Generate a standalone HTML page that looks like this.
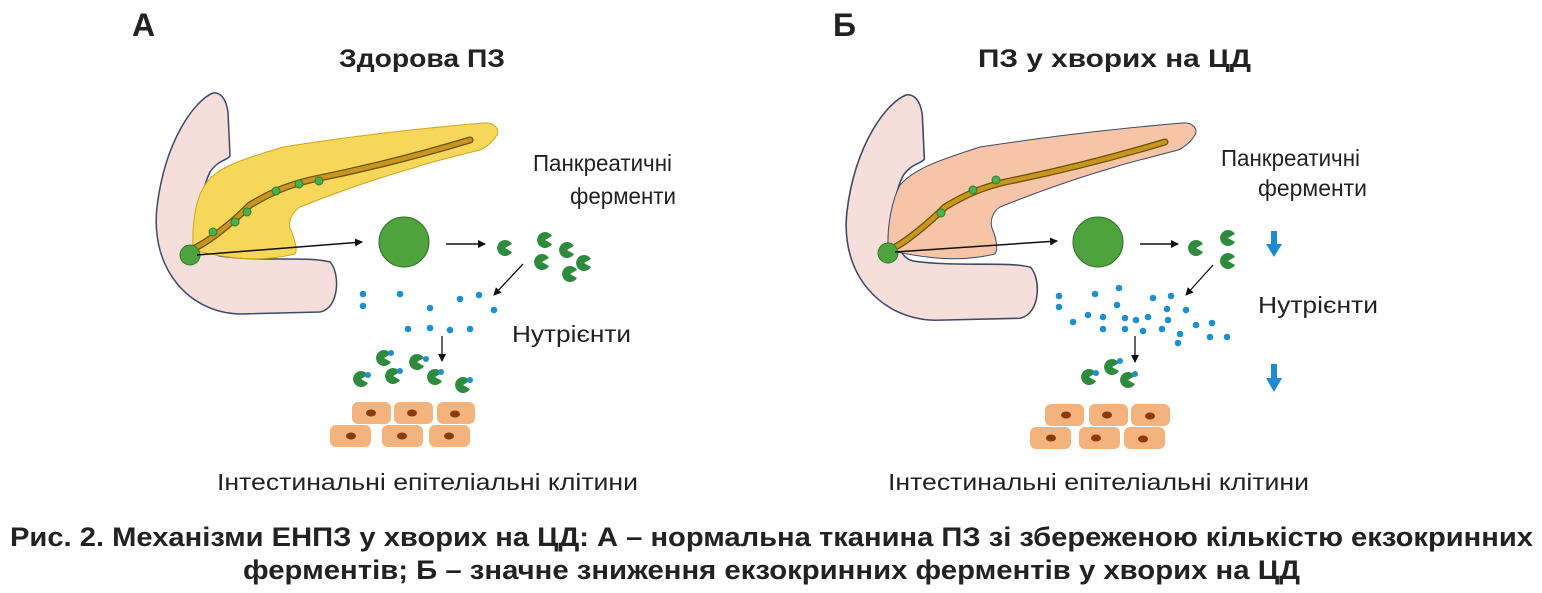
<!DOCTYPE html>
<html><head><meta charset="utf-8"><style>
html,body{margin:0;padding:0;background:#fff;}
svg{display:block}
text{font-family:"Liberation Sans",sans-serif;fill:#222}
</style></head><body>
<svg width="1542" height="593" viewBox="0 0 1542 593" xmlns="http://www.w3.org/2000/svg">
<defs>
<marker id="ah" markerWidth="8" markerHeight="8" refX="7" refY="4" orient="auto" markerUnits="userSpaceOnUse"><path d="M0,0 L8,4 L0,8 z" fill="#111"/></marker>
<g id="pac"><path d="M0,0 L7,-4 A8,8 0 1 0 7,4 z" fill="#2e8b3e"/></g>
<g id="duo">
<path d="M213,93 C195,100 165,140 157,207 C150,270 190,313 240,314 L320,312 C340,308 340,272 330,262 C310,256 260,262 220,256 C198,252 196,200 210,172 C218,160 228,160 230,156 L228,112 C226,98 220,92 213,93 Z" fill="#f6dedb" stroke="#3d4a6a" stroke-width="1.5"/>
</g>
<g id="duct">
<path d="M195,248 C215,238 240,215 250,205 C275,190 290,185 310,180 C360,170 420,155 470,140" fill="none" stroke="#6b5200" stroke-width="7" stroke-linecap="round"/>
<path d="M195,248 C215,238 240,215 250,205 C275,190 290,185 310,180 C360,170 420,155 470,140" fill="none" stroke="#c8961e" stroke-width="4.5" stroke-linecap="round"/>
</g>
</defs>

<text x="132" y="36" font-size="32" font-weight="bold">А</text>
<text x="833" y="36" font-size="32" font-weight="bold">Б</text>
<text x="339" y="67" font-size="25" font-weight="bold" textLength="166" lengthAdjust="spacingAndGlyphs">Здорова ПЗ</text>
<text x="978" y="67" font-size="25" font-weight="bold" textLength="273" lengthAdjust="spacingAndGlyphs">ПЗ у хворих на ЦД</text>

<!-- PANEL A -->
<g>
<use href="#duo"/>
<path d="M193,250 C192,225 195,200 205,185 C215,168 240,160 283,147 C340,138 400,130 483,123 C495,122 500,130 497,135 C492,143 485,148 480,150 C440,160 420,165 417,167 C370,180 330,195 300,207 C292,212 288,222 290,228 C295,240 298,250 295,254 C270,260 240,262 193,250 Z" fill="#f7d75a" stroke="#c9a820" stroke-width="1"/>
<use href="#duct"/>
<g fill="#4caf50" stroke="#2e7d32" stroke-width="1">
<circle cx="213" cy="232" r="4"/><circle cx="235" cy="222" r="4"/><circle cx="247" cy="212" r="4"/><circle cx="276" cy="191" r="4"/><circle cx="299" cy="184" r="4"/><circle cx="319" cy="181" r="4"/>
</g>
<circle cx="190" cy="255" r="10" fill="#4ea33c" stroke="#2e7d32"/>
<line x1="197" y1="255" x2="362" y2="242" stroke="#111" stroke-width="1.5" marker-end="url(#ah)"/>
<circle cx="404" cy="242" r="25" fill="#4ea33c" stroke="#2e6b2a" stroke-width="1"/>
<line x1="446" y1="244" x2="485" y2="244" stroke="#111" stroke-width="1.5" marker-end="url(#ah)"/>
<use href="#pac" x="505" y="248"/><use href="#pac" x="545" y="240"/><use href="#pac" x="567" y="250"/><use href="#pac" x="542" y="262"/><use href="#pac" x="584" y="263"/><use href="#pac" x="570" y="274"/>
<line x1="523" y1="264" x2="494" y2="295" stroke="#111" stroke-width="1.3" marker-end="url(#ah)"/>
<g fill="#1e90d0">
<circle cx="363" cy="294" r="3.3"/><circle cx="363" cy="306" r="3.3"/><circle cx="400" cy="294" r="3.3"/><circle cx="430" cy="308" r="3.3"/><circle cx="460" cy="299" r="3.3"/><circle cx="479" cy="295" r="3.3"/><circle cx="494" cy="310" r="3.3"/>
<circle cx="408" cy="329" r="3.3"/><circle cx="430" cy="328" r="3.3"/><circle cx="450" cy="330" r="3.3"/><circle cx="470" cy="329" r="3.3"/>
</g>
<line x1="442" y1="336" x2="442" y2="361" stroke="#111" stroke-width="1.3" marker-end="url(#ah)"/>
<use href="#pac" x="384" y="358"/><use href="#pac" x="361" y="379"/><use href="#pac" x="393" y="376"/><use href="#pac" x="417" y="362"/><use href="#pac" x="435" y="377"/><use href="#pac" x="463" y="385"/>
<g fill="#1e90d0"><circle cx="391" cy="353" r="3"/><circle cx="368" cy="375" r="3"/><circle cx="400" cy="371" r="3"/><circle cx="426" cy="359" r="3"/><circle cx="441" cy="372" r="3"/><circle cx="470" cy="380" r="3"/></g>
<g fill="#f4b27c"><rect x="352" y="402" width="39" height="22" rx="6"/><rect x="394" y="402" width="39" height="22" rx="6"/><rect x="437" y="402" width="38" height="22" rx="6"/>
<rect x="330" y="425" width="41" height="22" rx="6"/><rect x="382" y="425" width="41" height="22" rx="6"/><rect x="429" y="425" width="41" height="22" rx="6"/></g>
<g fill="#8b3a0a"><ellipse cx="371" cy="413" rx="5" ry="3.5"/><ellipse cx="412" cy="413" rx="5" ry="3.5"/><ellipse cx="455" cy="414" rx="5" ry="3.5"/><ellipse cx="351" cy="436" rx="5" ry="3.5"/><ellipse cx="402" cy="436" rx="5" ry="3.5"/><ellipse cx="449" cy="436" rx="5" ry="3.5"/></g>
<text x="533" y="171" font-size="23" textLength="139" lengthAdjust="spacingAndGlyphs">Панкреатичні</text>
<text x="570" y="204" font-size="23" textLength="106" lengthAdjust="spacingAndGlyphs">ферменти</text>
<text x="512" y="342" font-size="23" textLength="119" lengthAdjust="spacingAndGlyphs">Нутрієнти</text>
<text x="217" y="490" font-size="23" textLength="421" lengthAdjust="spacingAndGlyphs">Інтестинальні епітеліальні клітини</text>
</g>

<!-- PANEL B -->
<g transform="translate(690,0) translate(157,0) scale(1.06,1.02) translate(-157,0)">
<use href="#duo"/>
</g>
<g>
<path d="M888,250 C887,225 892,200 900,185 C915,168 940,160 980,147 C1040,138 1100,130 1182,123 C1194,122 1198,130 1195,135 C1190,143 1183,148 1178,150 C1140,160 1120,165 1115,167 C1070,180 1030,195 1000,207 C992,212 990,222 992,228 C997,240 998,250 995,254 C970,260 940,262 888,250 Z" fill="#f6c4a6" stroke="#3d4a6a" stroke-width="1"/>
<use href="#duct" transform="translate(695,2)"/>
<g fill="#4caf50" stroke="#2e7d32" stroke-width="1"><circle cx="941" cy="213" r="4"/><circle cx="973" cy="190" r="4"/><circle cx="996" cy="180" r="4"/></g>
<circle cx="888" cy="253" r="10" fill="#4ea33c" stroke="#2e7d32"/>
<line x1="895" y1="252" x2="1057" y2="241" stroke="#111" stroke-width="1.5" marker-end="url(#ah)"/>
<circle cx="1098" cy="242" r="25" fill="#4ea33c" stroke="#2e6b2a"/>
<line x1="1140" y1="244" x2="1178" y2="244" stroke="#111" stroke-width="1.5" marker-end="url(#ah)"/>
<use href="#pac" x="1196" y="248"/><use href="#pac" x="1228" y="238"/><use href="#pac" x="1228" y="261"/>
<line x1="1213" y1="265" x2="1186" y2="295" stroke="#111" stroke-width="1.3" marker-end="url(#ah)"/>
<g fill="#1e90d0">
<circle cx="1059" cy="296" r="3.3"/><circle cx="1059" cy="307" r="3.3"/><circle cx="1095" cy="294" r="3.3"/><circle cx="1119" cy="288" r="3.3"/><circle cx="1117" cy="305" r="3.3"/><circle cx="1153" cy="298" r="3.3"/><circle cx="1171" cy="296" r="3.3"/>
<circle cx="1073" cy="322" r="3.3"/><circle cx="1088" cy="315" r="3.3"/><circle cx="1103" cy="317" r="3.3"/><circle cx="1125" cy="318" r="3.3"/><circle cx="1136" cy="320" r="3.3"/><circle cx="1148" cy="317" r="3.3"/><circle cx="1167" cy="309" r="3.3"/><circle cx="1186" cy="310" r="3.3"/><circle cx="1168" cy="320" r="3.3"/>
<circle cx="1103" cy="329" r="3.3"/><circle cx="1125" cy="329" r="3.3"/><circle cx="1143" cy="331" r="3.3"/><circle cx="1162" cy="329" r="3.3"/><circle cx="1196" cy="325" r="3.3"/><circle cx="1212" cy="323" r="3.3"/><circle cx="1180" cy="334" r="3.3"/><circle cx="1210" cy="337" r="3.3"/><circle cx="1227" cy="337" r="3.3"/><circle cx="1178" cy="343" r="3.3"/>
</g>
<line x1="1135" y1="336" x2="1135" y2="362" stroke="#111" stroke-width="1.3" marker-end="url(#ah)"/>
<use href="#pac" x="1089" y="377"/><use href="#pac" x="1112" y="367"/><use href="#pac" x="1128" y="380"/>
<g fill="#1e90d0"><circle cx="1096" cy="373" r="3"/><circle cx="1120" cy="361" r="3"/><circle cx="1135" cy="374" r="3"/></g>
<g fill="#f4b27c"><rect x="1045" y="404" width="39" height="22" rx="6"/><rect x="1089" y="404" width="39" height="22" rx="6"/><rect x="1131" y="404" width="39" height="22" rx="6"/>
<rect x="1030" y="427" width="41" height="22" rx="6"/><rect x="1079" y="427" width="41" height="22" rx="6"/><rect x="1124" y="427" width="41" height="22" rx="6"/></g>
<g fill="#8b3a0a"><ellipse cx="1066" cy="415" rx="5" ry="3.5"/><ellipse cx="1107" cy="415" rx="5" ry="3.5"/><ellipse cx="1150" cy="416" rx="5" ry="3.5"/><ellipse cx="1051" cy="438" rx="5" ry="3.5"/><ellipse cx="1096" cy="438" rx="5" ry="3.5"/><ellipse cx="1143" cy="439" rx="5" ry="3.5"/></g>
<g fill="#1e8ad0"><rect x="1271" y="231" width="6" height="14"/><path d="M1266,244 L1282,244 L1274,257 Z"/>
<rect x="1271" y="364" width="6" height="15"/><path d="M1266,378 L1282,378 L1274,392 Z"/></g>
<text x="1221" y="166" font-size="23" textLength="139" lengthAdjust="spacingAndGlyphs">Панкреатичні</text>
<text x="1258" y="196" font-size="23" textLength="109" lengthAdjust="spacingAndGlyphs">ферменти</text>
<text x="1258" y="313" font-size="23" textLength="120" lengthAdjust="spacingAndGlyphs">Нутрієнти</text>
<text x="888" y="490" font-size="23" textLength="421" lengthAdjust="spacingAndGlyphs">Інтестинальні епітеліальні клітини</text>
</g>

<text x="10" y="546" font-size="27" font-weight="bold" textLength="1523" lengthAdjust="spacingAndGlyphs">Рис. 2. Механізми ЕНПЗ у хворих на ЦД: А – нормальна тканина ПЗ зі збереженою кількістю екзокринних</text>
<text x="243" y="579" font-size="27" font-weight="bold" textLength="1057" lengthAdjust="spacingAndGlyphs">ферментів; Б – значне зниження екзокринних ферментів у хворих на ЦД</text>
</svg>
</body></html>
